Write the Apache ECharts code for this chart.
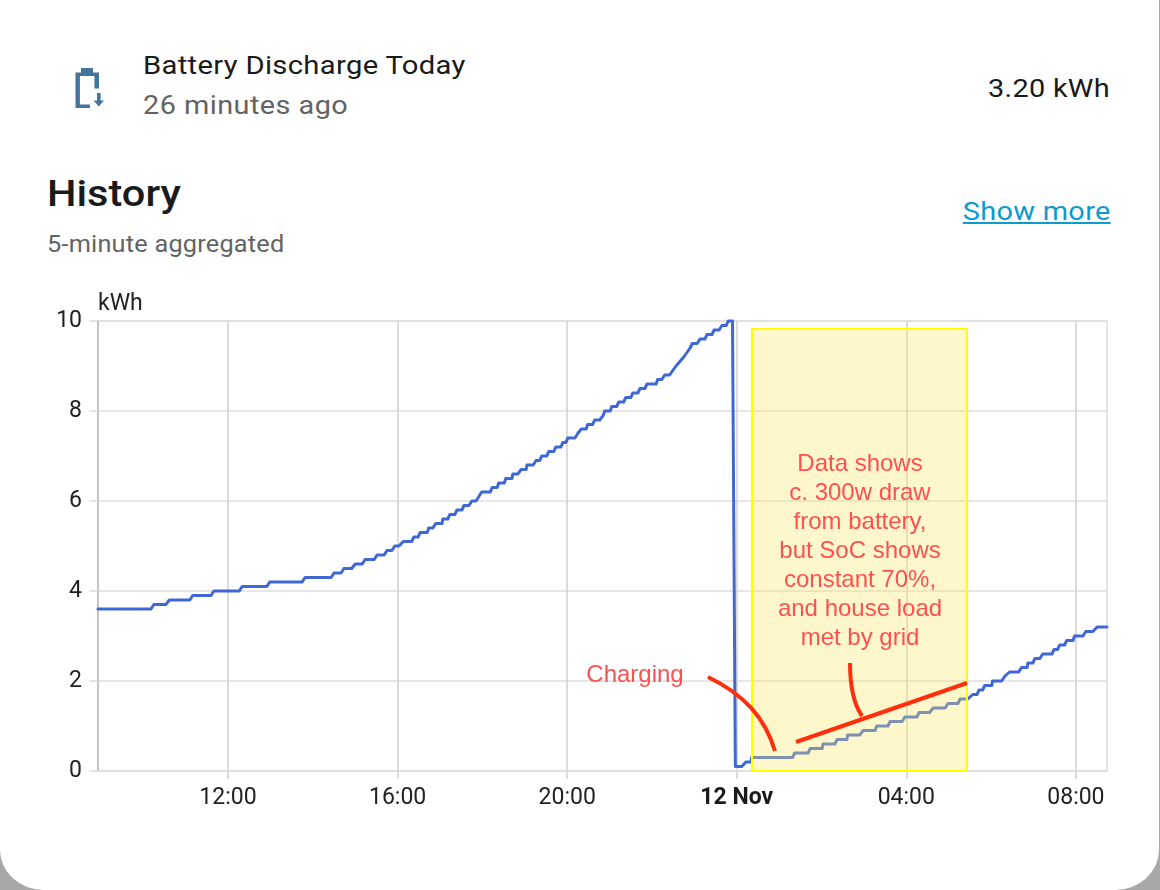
<!DOCTYPE html>
<html>
<head>
<meta charset="utf-8">
<style>
html,body{margin:0;padding:0;width:1160px;height:890px;overflow:hidden;background:#a8a8a8;font-family:Roboto,sans-serif}
#card{position:absolute;left:0;top:0;width:1159px;height:890px;background:#fff;border-radius:0 0 44px 44px / 0 0 40px 40px}
#chart{position:absolute;left:0;top:0;width:1160px;height:890px}
.t{position:absolute;white-space:nowrap;line-height:1;transform-origin:left center}
.r{transform-origin:right center}
</style>
<script src="https://cdn.jsdelivr.net/npm/echarts@6/dist/echarts.min.js"></script>
</head>
<body>
<div id="card"></div>
<svg style="position:absolute;left:0;top:0" width="160" height="140">
  <path d="M81 68h12v4.5h6v16h-4.6v-12.4h-14.5v28.4h10v3.5h-14.4v-35.5h5.5z" fill="#44739e"/>
  <path d="M97 93h3.6v7.5h3.4l-5.2 6l-5.2-6h3.4z" fill="#44739e"/>
</svg>
<div class="t" style="left:143px;top:52px;font-size:26.5px;letter-spacing:.28px;color:#1a1a1a;transform:scaleX(1.103)">Battery Discharge Today</div>
<div class="t" style="left:143px;top:92px;font-size:26px;letter-spacing:.42px;color:#636363;transform:scaleX(1.109)">26 minutes ago</div>
<div class="t r" style="right:50px;top:75px;font-size:26.5px;letter-spacing:.28px;color:#1a1a1a;transform:scaleX(1.09)">3.20 kWh</div>
<div class="t" style="left:47px;top:175px;font-size:37.5px;font-weight:500;color:#1a1a1a;transform:scaleX(1.108)">History</div>
<div class="t" style="left:47px;top:233px;font-size:23px;letter-spacing:.2px;color:#636363;transform:scaleX(1.1)">5-minute aggregated</div>
<div class="t r" style="right:49.5px;top:198px;font-size:26.5px;letter-spacing:.28px;color:#0b9bd0;text-decoration:underline;transform:scaleX(1.09)">Show more</div>
<div id="chart"></div>
<script>
// Minutes since 00:00 on 11 Nov, and the cumulative kWh read at each of those moments
const minutes = [
 536,611, 615,632, 637,666, 670,696, 700,736, 740,775, 779,825, 829,866, 870,880, 884,895,
 900,910, 914,927, 931,941, 945,952, 956,962, 968,980, 983,989, 992,1002, 1004,1010, 1014,1023,
 1024,1031, 1034,1041, 1044,1051, 1054,1061, 1065,1071, 1075, 1079,1091, 1094,1101, 1103,1111,
 1113,1122, 1123,1130, 1135,1142, 1143,1152, 1156,1161, 1164,1171, 1174,1181, 1184,1191, 1194,1198,
 1201,1211, 1215, 1220,1227, 1229,1236, 1239,1246, 1251, 1253,1261, 1263,1270, 1273,1280, 1283,1290,
 1293,1300, 1303,1310, 1313,1326, 1328,1334, 1338,1345, 1354, 1365, 1374, 1377,1384, 1388,1395,
 1398,1405, 1408,1415, 1419,1425, 1428,1434,
 1438,1447, 1453,1460, 1461,1519, 1522,1541, 1544,1561, 1562,1579, 1582,1596, 1597,1614, 1619,1636,
 1638,1654, 1657,1674, 1678,1695, 1698,1713, 1718,1735, 1739,1753, 1756,1767, 1774,1780, 1783,1788,
 1791,1801, 1802,1815, 1819, 1826,1839, 1843,1851, 1852,1859, 1862,1869, 1873,1886, 1889,1894,
 1897,1904, 1907,1916, 1918,1930, 1934,1944, 1950,1964
];
const kwh = [
 3.6,3.6, 3.7,3.7, 3.8,3.8, 3.9,3.9, 4.0,4.0, 4.1,4.1, 4.2,4.2, 4.3,4.3, 4.4,4.4, 4.5,4.5,
 4.6,4.6, 4.7,4.7, 4.8,4.8, 4.9,4.9, 5.0,5.0, 5.1,5.1, 5.2,5.2, 5.3,5.3, 5.4,5.4, 5.5,5.5,
 5.6,5.6, 5.7,5.7, 5.8,5.8, 5.9,5.9, 6.0,6.0, 6.1, 6.2,6.2, 6.3,6.3, 6.4,6.4,
 6.5,6.5, 6.6,6.6, 6.7,6.7, 6.8,6.8, 6.9,6.9, 7.0,7.0, 7.1,7.1, 7.2,7.2, 7.3,7.3,
 7.4,7.4, 7.5, 7.6,7.6, 7.7,7.7, 7.8,7.8, 7.9, 8.0,8.0, 8.1,8.1, 8.2,8.2, 8.3,8.3,
 8.4,8.4, 8.5,8.5, 8.6,8.6, 8.7,8.7, 8.8,8.8, 9.0, 9.2, 9.4, 9.5,9.5, 9.6,9.6,
 9.7,9.7, 9.8,9.8, 9.9,9.9, 10.0,10.0,
 0.1,0.1, 0.2,0.2, 0.3,0.3, 0.4,0.4, 0.5,0.5, 0.6,0.6, 0.7,0.7, 0.8,0.8, 0.9,0.9,
 1.0,1.0, 1.1,1.1, 1.2,1.2, 1.3,1.3, 1.4,1.4, 1.5,1.5, 1.6,1.6, 1.7,1.7, 1.8,1.8,
 1.9,1.9, 2.0,2.0, 2.1, 2.2,2.2, 2.3,2.3, 2.4,2.4, 2.5,2.5, 2.6,2.6, 2.7,2.7,
 2.8,2.8, 2.9,2.9, 3.0,3.0, 3.1,3.1, 3.2,3.2
];
const tickMinutes = [720, 960, 1200, 1440, 1680, 1920];
const tickLabels = ['12:00', '16:00', '20:00', '12 Nov', '04:00', '08:00'];
const boldTick = '12 Nov';
const xRange = [536, 1964];
const yTicks = { min: 0, max: 10, step: 2 };
const unit = 'kWh';
const noteLines = ['Data shows','c. 300w draw','from battery,','but SoC shows','constant 70%,','and house load','met by grid'];
const chargeNote = 'Charging';

const points = minutes.map((m, i) => [m, kwh[i]]);
const GRID = '#dedede', RED = '#ff2e0c', NOTE = '#ff5050';
const noteFont = '24px "Liberation Sans"';

const chart = echarts.init(document.getElementById('chart'), null, {renderer: 'canvas'});
chart.setOption({
  animation: false,
  backgroundColor: 'transparent',
  textStyle: {fontFamily: 'Roboto'},
  grid: {left: 98, right: 53, top: 321, bottom: 119, show: true, borderColor: GRID, borderWidth: 1.6},
  xAxis: {
    type: 'value',
    min: xRange[0], max: xRange[1],
    axisLine: {show: true, onZero: false, lineStyle: {color: GRID, width: 1.6}},
    axisTick: {show: true, length: 8, customValues: tickMinutes, lineStyle: {color: '#d4d4d4', width: 1.6}},
    splitLine: {show: true, lineStyle: {color: '#d4d4d4', width: 1.6}},
    axisLabel: {
      customValues: tickMinutes,
      margin: 16, fontSize: 23, color: '#222', fontFamily: 'Roboto',
      hideOverlap: false,
      formatter: v => {
        const s = tickLabels[tickMinutes.indexOf(v)];
        return s === boldTick ? '{b|' + s + '}' : s;
      },
      rich: {b: {fontSize: 23, fontWeight: 'bold', color: '#1a1a1a', fontFamily: 'Roboto'}}
    }
  },
  yAxis: {
    type: 'value',
    min: yTicks.min, max: yTicks.max, interval: yTicks.step,
    name: unit, nameLocation: 'end', nameGap: 5,
    nameTextStyle: {fontSize: 23, color: '#222', align: 'left', fontFamily: 'Roboto'},
    axisLine: {show: true, lineStyle: {color: '#bdbdbd', width: 1.6}},
    axisTick: {show: true, length: 9, lineStyle: {color: GRID, width: 1.6}},
    splitLine: {show: true, lineStyle: {color: GRID, width: 1.6}},
    axisLabel: {margin: 16, fontSize: 23, color: '#222', fontFamily: 'Roboto'}
  },
  series: [{
    type: 'line', data: points, showSymbol: false, symbol: 'none', smooth: false, z: 3, clip: false,
    lineStyle: {color: '#3f68d4', width: 3, join: 'round', cap: 'round'}
  }],
  graphic: [
    {type: 'rect', z: 50, shape: {x: 752, y: 329, width: 215, height: 442},
     style: {fill: 'rgba(255,232,100,0.33)', stroke: '#ffff00', lineWidth: 2}},
    {type: 'bezierCurve', z: 60, shape: {x1: 708, y1: 677, cpx1: 745, cpy1: 695, cpx2: 765, cpy2: 718, x2: 775, y2: 751},
     style: {stroke: RED, lineWidth: 4, fill: 'none'}},
    {type: 'line', z: 60, shape: {x1: 796, y1: 742, x2: 967, y2: 683}, style: {stroke: RED, lineWidth: 4}},
    {type: 'bezierCurve', z: 60, shape: {x1: 850, y1: 663, cpx1: 850, cpy1: 685, cpx2: 853, cpy2: 703, x2: 862, y2: 716},
     style: {stroke: RED, lineWidth: 4, fill: 'none'}},
    {type: 'text', z: 60, style: {x: 635, y: 675, text: chargeNote, fill: NOTE, font: noteFont, align: 'center', verticalAlign: 'middle'}}
  ].concat(noteLines.map((s, i) => ({
    type: 'text', z: 60, style: {x: 860, y: 464 + i * 29, text: s, fill: NOTE, font: noteFont, align: 'center', verticalAlign: 'middle'}
  })))
});
</script>
</body>
</html>
